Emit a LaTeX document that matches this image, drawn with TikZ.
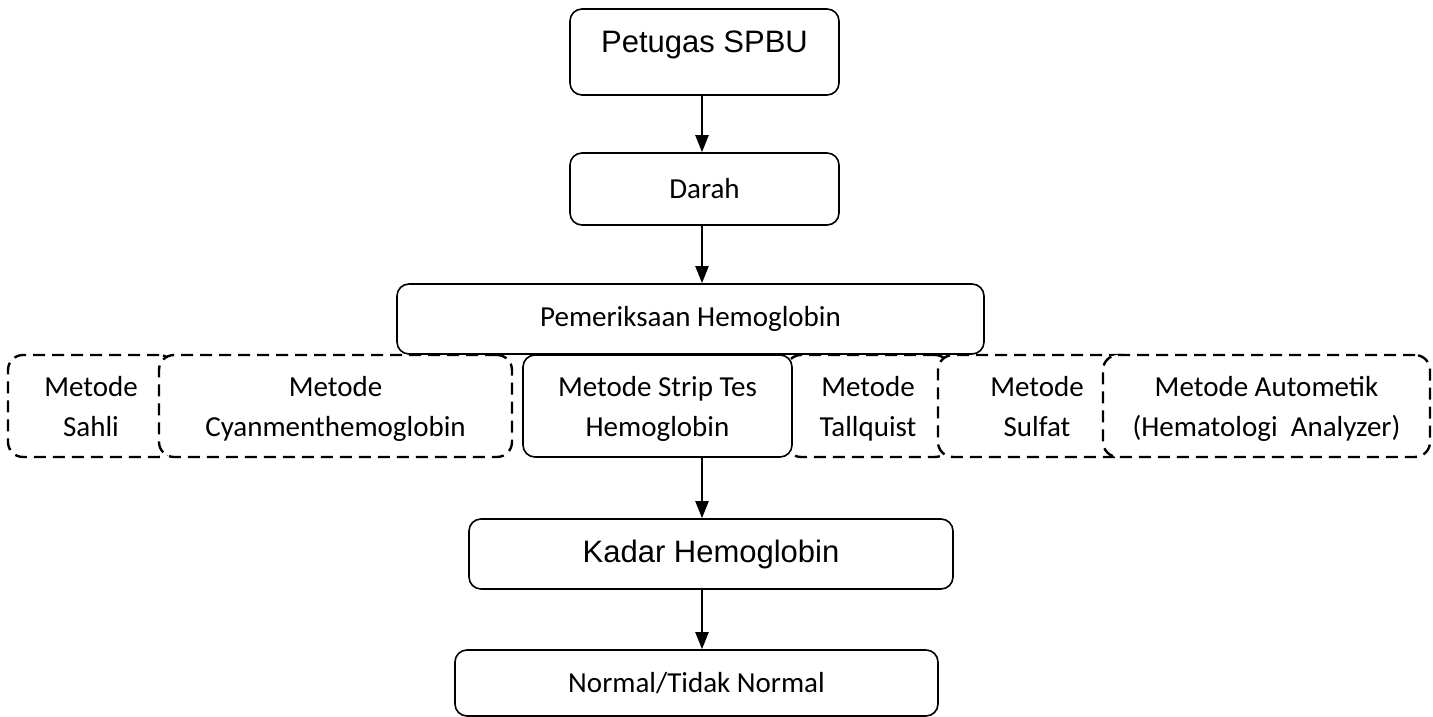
\documentclass[tikz,border=0pt]{standalone}
\usepackage{fontspec}
\setmainfont{Carlito}
\newfontfamily\arialfont{Liberation Sans}
\usetikzlibrary{arrows.meta}
\newcommand\rowstrut{\rule[-6pt]{0pt}{34pt}}
\begin{document}
\begin{tikzpicture}[x=1pt,y=-1pt,
  solidbox/.style={draw, line width=1.6pt, rounded corners=12pt, fill=white, inner sep=0pt},
  dashbox/.style={draw, line width=2.4pt, dash pattern=on 12pt off 7pt, rounded corners=15pt, fill=white, inner sep=0pt},
  calib/.style={font=\fontsize{29}{35}\selectfont},
  rowtxt/.style={font=\fontsize{29}{40}\selectfont, align=center, inner sep=0pt},
  big/.style={font=\arialfont\fontsize{31}{37}\selectfont},
  flow/.style={draw, line width=2pt, -{Triangle[length=17pt,width=13pt]}}
]
\useasboundingbox (0,0) rectangle (1433,717);

% top chain
\node[solidbox, big, minimum width=269pt, minimum height=86pt, text depth=20.6pt] (petugas) at (704.5,52) {Petugas SPBU};
\node[solidbox, calib, minimum width=269pt, minimum height=72pt] (darah) at (704.5,189) {Darah};
\node[solidbox, calib, minimum width=587pt, minimum height=70pt] (periksa) at (690.5,319) {Pemeriksaan Hemoglobin};

% method row (drawn in stacking order)
\node[dashbox, minimum width=166pt, minimum height=102pt] (sahli) at (91,406) {};
\node[dashbox, minimum width=353pt, minimum height=102pt] (cyan) at (335.5,406) {};
\node[dashbox, minimum width=164pt, minimum height=102pt] (tall) at (868,406) {};
\node[solidbox, minimum width=269pt, minimum height=102pt] (strip) at (657.5,406) {};
\node[dashbox, minimum width=198pt, minimum height=102pt] (sulfat) at (1037,406) {};
\node[dashbox, minimum width=327pt, minimum height=102pt] (auto) at (1266.5,406) {};

\begin{scope}
\clip (0,0) rectangle (1433,440);
\node[rowtxt] (sahlit) at ([yshift=1pt]sahli.center) {\rowstrut Metode\\\rowstrut Sahli};
\node[rowtxt] (cyant) at ([yshift=1pt]cyan.center) {\rowstrut Metode\\\rowstrut Cyanmenthemoglobin};
\node[rowtxt] (stript) at ([yshift=1pt]strip.center) {\rowstrut Metode Strip Tes\\\rowstrut Hemoglobin};
\node[rowtxt] (tallt) at ([yshift=1pt]tall.center) {\rowstrut Metode\\\rowstrut Tallquist};
\node[rowtxt] (sulfatt) at ([yshift=1pt]sulfat.center) {\rowstrut Metode\\\rowstrut Sulfat};
\node[rowtxt] (autot) at ([yshift=1pt]auto.center) {\rowstrut Metode Autometik\\\rowstrut (Hematologi~ Analyzer)};
\end{scope}

% bottom chain
\node[solidbox, big, minimum width=484pt, minimum height=70pt] (kadar) at (711,554) {Kadar Hemoglobin};
\node[solidbox, calib, minimum width=483pt, minimum height=66pt] (normal) at (696.5,683) {Normal/Tidak Normal};

% connectors
\coordinate (ax) at (702,0);
\draw[flow] (petugas.south -| ax) -- (darah.north -| ax);
\draw[flow] (darah.south -| ax) -- (periksa.north -| ax);
\draw[flow] (strip.south -| ax) -- (kadar.north -| ax);
\draw[flow] (kadar.south -| ax) -- (normal.north -| ax);
\end{tikzpicture}
\end{document}
